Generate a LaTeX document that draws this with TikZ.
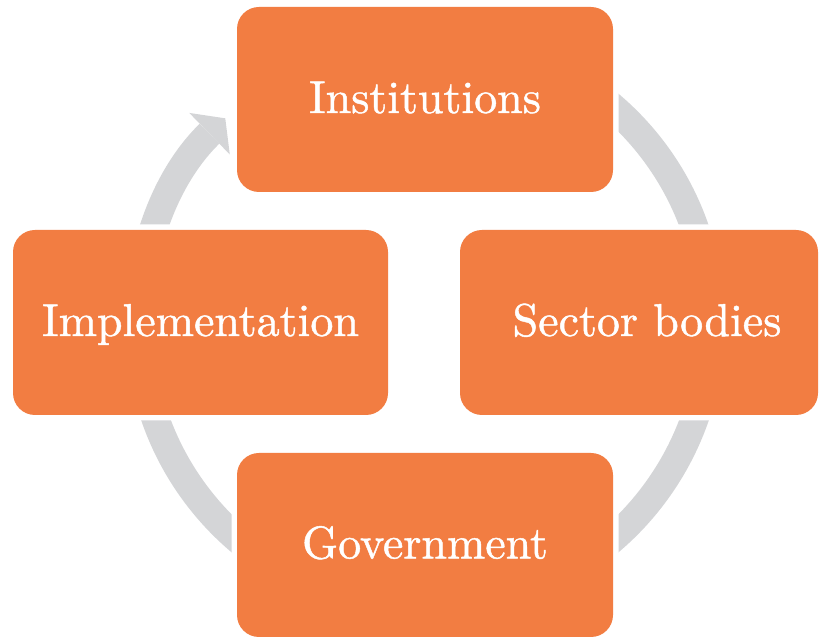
\documentclass[tikz,border=0pt]{standalone}
\usepackage{fontspec}
\usepackage{tikz}
\usetikzlibrary{arrows.meta,positioning}
\newfontfamily\boxfont{lmroman10-regular.otf}[FakeBold=1]
\definecolor{orangebox}{RGB}{242,125,66}
\definecolor{grisfleche}{RGB}{212,213,215}

\begin{document}
\begin{tikzpicture}[
		x=1pt, y=1pt,
		box/.style={rounded corners=22pt, fill=orangebox, text=white, minimum height=185pt, minimum width=376pt, inner sep=0pt, text height=31pt, text depth=4pt, font=\boxfont\fontsize{46}{55}\selectfont, preaction={draw=white, line width=11pt}},
		ring/.style={draw=grisfleche, line width=28pt, -{Triangle[width=58pt,length=22pt,line width=0pt]}} % grosse fleche circulaire
		]
		\useasboundingbox (0,0) rectangle (825,637);
		
		% Le cercle
		\coordinate (O) at (425,314);
		\draw[ring] (O) ++(100:286) arc[start angle=100, end angle=-225.7, radius=286];
		
		% Les boites
		\node[box] (I) at (425,537.5) {Institutions};
		\node[box, minimum width=375pt] (M) at (200.5,314.5) {Implementation};
		\node[box, minimum width=358pt] (S) at (639,314.5) {\hspace*{16pt}Sector bodies};
		\node[box, minimum height=184pt] (G) at (425,92) {Government};
\end{tikzpicture}
\end{document}
